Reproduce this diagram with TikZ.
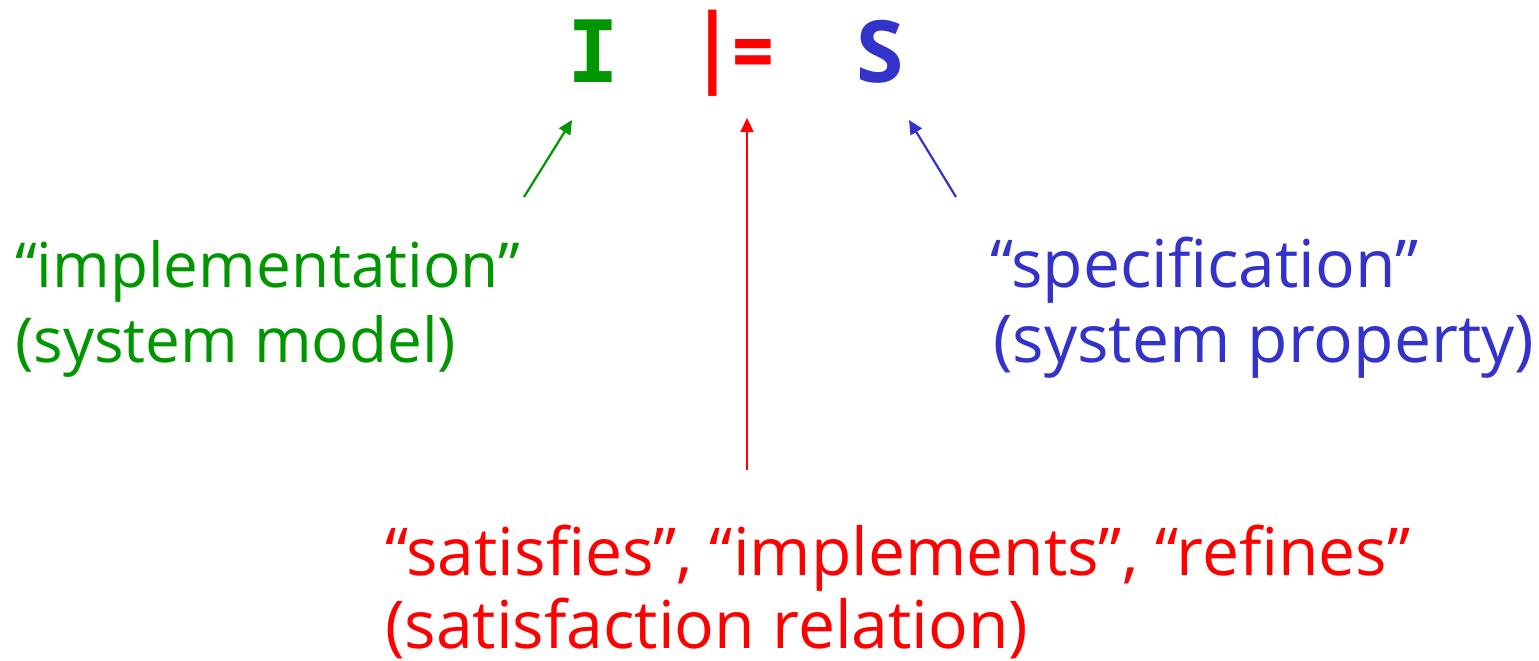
\documentclass[tikz,border=0pt]{standalone}
\usepackage{fontspec}
\setmainfont{Open Sans}
\newfontfamily\monofam{DejaVu Sans Mono}
\usetikzlibrary{arrows.meta}
\definecolor{cgreen}{RGB}{0,150,0}
\definecolor{cred}{RGB}{255,0,0}
\definecolor{cblue}{RGB}{51,51,204}
\tikzset{
  lbl/.style={anchor=base west, inner sep=0pt, font=\fontsize{66}{70}\selectfont},
  big/.style={anchor=base, inner sep=0pt, font=\bfseries\fontsize{86}{90}\selectfont},
  arr/.style={-{Triangle[length=14pt,width=13pt]}, line width=2.2pt}
}
\begin{document}
\begin{tikzpicture}[x=1pt,y=-1pt]
\useasboundingbox (0,0) rectangle (1539,661);
\node[big, text=cgreen, font=\monofam\bfseries\fontsize{86}{90}\selectfont] (I) at (593,82) {I};
\node[big, text=cred] (sat) at (733,82) {\raisebox{6pt}{\scalebox{0.9}[1.02]{|}}\kern-2pt\scalebox{0.85}[1]{=}};
\node[big, text=cblue] (S) at (880,82) {S};
\coordinate (Itip) at (572,120);
\coordinate (Stip) at (909,120);
\coordinate (Rtip) at (747,118);
\coordinate (Ifoot) at (524,197);
\coordinate (Sfoot) at (956,197);
\coordinate (Rfoot) at (747,470);
\node[lbl, text=cgreen, font=\fontsize{62}{70}\selectfont] (impl) at (15,287) {“implementation”};
\node[lbl, text=cgreen, font=\fontsize{62}{70}\selectfont] (impl2) at (15,362) {(system model)};
\node[lbl, text=cblue] (spec) at (990,287) {“specification”};
\node[lbl, text=cblue] (spec2) at (993,362) {(system property)};
\node[lbl, text=cred] (rel) at (385,575) {“satisfies”, “implements”, “refines”};
\node[lbl, text=cred] (rel2) at (385,648) {(satisfaction relation)};
\draw[arr, cgreen] (Ifoot) -- (Itip);
\draw[arr, cblue] (Sfoot) -- (Stip);
\draw[arr, cred] (Rfoot) -- (Rtip);
\end{tikzpicture}
\end{document}
